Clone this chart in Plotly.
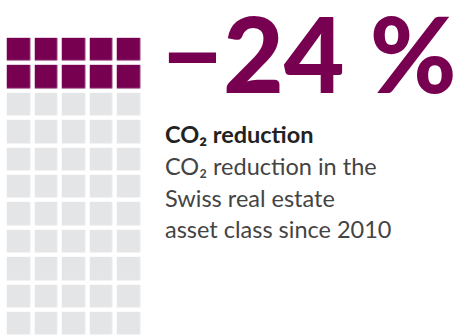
import plotly.graph_objects as go

# Waffle data
n_cols = 5
n_rows = 11
highlighted = 10  # purple cells (top rows)
headline = "−24 %"
title_line = "CO₂ reduction"
body_lines = ["CO₂ reduction in the", "Swiss real estate", "asset class since 2010"]

PURPLE = "#780050"
GRAY = "#E4E5E7"

z = []
k = 0
for r in range(n_rows):
    row = []
    for c in range(n_cols):
        row.append(1 if k < highlighted else 0)
        k += 1
    z.append(row)

W, H = 453, 336
pitch_x, pitch_y = 27.5, 27.4
x0c, y0c = 18.5, 49.5  # pixel centres of first cell

fig = go.Figure(go.Heatmap(
    z=z, x=list(range(n_cols)), y=list(range(n_rows)),
    colorscale=[[0, GRAY], [0.5, GRAY], [0.5, PURPLE], [1, PURPLE]],
    zmin=0, zmax=1, showscale=False, xgap=4.5, ygap=4.4, hoverinfo="skip"))

fig.update_xaxes(range=[-x0c / pitch_x, (W - x0c) / pitch_x], visible=False, fixedrange=True)
fig.update_yaxes(range=[(H - y0c) / pitch_y, -y0c / pitch_y], visible=False, fixedrange=True)

def py(px):
    return 1 - px / H

ann = [dict(text=headline, x=160 / W, y=py(117), xanchor="left", yanchor="bottom",
            font=dict(family="Lato", size=105, color=PURPLE, weight=900))]
ann.append(dict(text="<b>" + title_line + "</b>", x=163 / W, y=py(134), xanchor="left", yanchor="middle",
                font=dict(family="Lato", size=23.5, color="#222222")))
for i, t in enumerate(body_lines):
    ann.append(dict(text=t, x=163 / W, y=py(166 + 31.5 * i), xanchor="left", yanchor="middle",
                    font=dict(family="Lato", size=23.5, color="#444444")))
for a in ann:
    a.update(xref="paper", yref="paper", showarrow=False)

fig.update_layout(width=W, height=H, margin=dict(l=0, r=0, t=0, b=0),
                  paper_bgcolor="white", plot_bgcolor="white", annotations=ann)
fig.write_html("out.html")
